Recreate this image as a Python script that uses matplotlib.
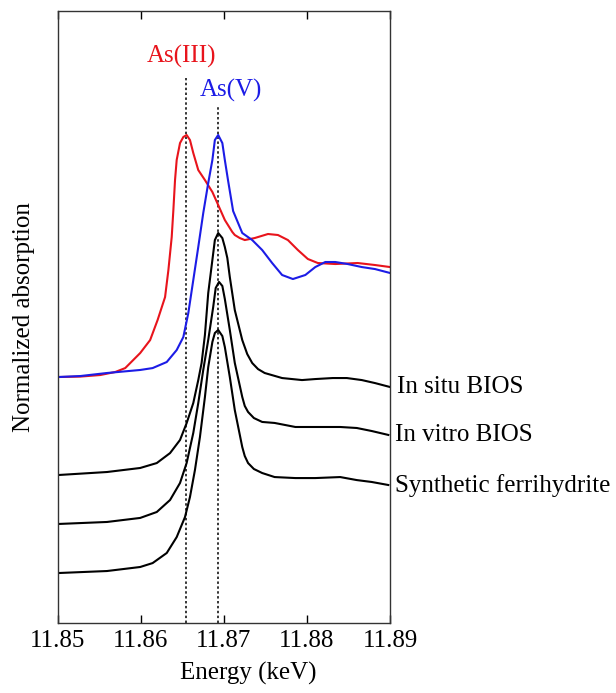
import matplotlib
matplotlib.use("Agg")
import matplotlib.pyplot as plt

plt.rcParams['font.family'] = ['Liberation Serif', 'DejaVu Serif']

# ---------------- data ----------------
red_E = [11.8500, 11.8527, 11.8551, 11.8569, 11.8581, 11.8599, 11.8611, 11.8620, 11.8629,
         11.8633, 11.8637, 11.8639, 11.8641, 11.8643, 11.8647, 11.8651, 11.8655, 11.8659,
         11.8663, 11.8669, 11.8677, 11.8686, 11.8693, 11.8701, 11.8710, 11.8713, 11.8719,
         11.8725, 11.8737, 11.8753, 11.8765, 11.8777, 11.8789, 11.8801, 11.8813, 11.8834,
         11.8861, 11.8882, 11.8900]
red_A = [0.000, 0.004, 0.018, 0.045, 0.080, 0.214, 0.330, 0.509, 0.714,
         0.955, 1.250, 1.491, 1.759, 1.938, 2.089, 2.143, 2.161, 2.116,
         2.000, 1.848, 1.759, 1.652, 1.536, 1.402, 1.295, 1.268, 1.241,
         1.223, 1.241, 1.277, 1.268, 1.223, 1.134, 1.054, 1.018, 1.009,
         1.018, 1.000, 0.982]

blue_E = [11.8500, 11.8527, 11.8559, 11.8599, 11.8614, 11.8631, 11.8643, 11.8651, 11.8657,
          11.8663, 11.8669, 11.8675, 11.8681, 11.8686, 11.8689, 11.8693, 11.8698, 11.8701,
          11.8705, 11.8711, 11.8722, 11.8734, 11.8746, 11.8758, 11.8770, 11.8783, 11.8798,
          11.8810, 11.8822, 11.8834, 11.8849, 11.8866, 11.8882, 11.8900]
blue_A = [0.000, 0.009, 0.036, 0.063, 0.080, 0.134, 0.241, 0.357, 0.571,
          0.866, 1.161, 1.464, 1.732, 1.938, 2.116, 2.161, 2.089, 1.938,
          1.750, 1.482, 1.286, 1.223, 1.134, 1.018, 0.911, 0.875, 0.911,
          0.982, 1.027, 1.027, 1.009, 0.982, 0.964, 0.929]

situ_E = [11.8500, 11.8559, 11.8599, 11.8619, 11.8635, 11.8647, 11.8655, 11.8663, 11.8669,
          11.8673, 11.8677, 11.8681, 11.8686, 11.8689, 11.8693, 11.8698, 11.8701, 11.8704,
          11.8707, 11.8713, 11.8722, 11.8728, 11.8734, 11.8741, 11.8749, 11.8770, 11.8794,
          11.8810, 11.8831, 11.8848, 11.8866, 11.8882, 11.8900]
situ_A = [0.000, 0.027, 0.063, 0.107, 0.196, 0.313, 0.464, 0.643, 0.848,
          1.000, 1.250, 1.625, 1.920, 2.098, 2.161, 2.116, 2.036, 1.938,
          1.768, 1.473, 1.205, 1.080, 1.000, 0.946, 0.911, 0.866, 0.848,
          0.857, 0.866, 0.866, 0.848, 0.821, 0.786]

vitro_E = [11.8500, 11.8559, 11.8599, 11.8619, 11.8635, 11.8647, 11.8655, 11.8663, 11.8669,
           11.8675, 11.8681, 11.8687, 11.8690, 11.8694, 11.8698, 11.8701, 11.8707, 11.8713,
           11.8722, 11.8725, 11.8729, 11.8736, 11.8746, 11.8761, 11.8786, 11.8810, 11.8840,
           11.8860, 11.8878, 11.8898]
vitro_A = [0.000, 0.018, 0.054, 0.107, 0.214, 0.366, 0.545, 0.813, 1.080,
           1.375, 1.643, 1.938, 2.107, 2.161, 2.125, 2.009, 1.732, 1.438,
           1.134, 1.054, 1.000, 0.946, 0.911, 0.902, 0.866, 0.866, 0.866,
           0.857, 0.830, 0.795]

synth_E = [11.8500, 11.8559, 11.8599, 11.8614, 11.8631, 11.8643, 11.8653, 11.8659, 11.8665,
           11.8671, 11.8677, 11.8681, 11.8686, 11.8689, 11.8693, 11.8698, 11.8701, 11.8707,
           11.8713, 11.8722, 11.8725, 11.8729, 11.8736, 11.8746, 11.8761, 11.8786, 11.8810,
           11.8840, 11.8860, 11.8878, 11.8898]
synth_A = [0.000, 0.018, 0.054, 0.089, 0.179, 0.321, 0.500, 0.679, 0.920,
           1.214, 1.571, 1.839, 2.063, 2.143, 2.170, 2.116, 2.018, 1.750,
           1.455, 1.125, 1.045, 0.982, 0.929, 0.893, 0.857, 0.848, 0.848,
           0.857, 0.830, 0.813, 0.786]

# vertical stacking offsets
offset_ref = 2.196
offset_situ = 1.321
offset_vitro = 0.884
offset_synth = 0.446

sample_labels = ["In situ BIOS", "In vitro BIOS", "Synthetic ferrihydrite"]
ref_labels = ["As(III)", "As(V)"]
as3_edge = 11.8654
as5_edge = 11.8693
as3_line_top = 4.866
as5_line_top = 4.616
as3_label_pos = (11.8649, 5.054)
as5_label_pos = (11.8708, 4.759)

xticks = [11.85, 11.86, 11.87, 11.88, 11.89]
xlim = (11.85, 11.89)
ylim = (0.0, 5.464)

RED = '#e8141c'
BLUE = '#1c1ce6'
FS = 18

# ---------------- figure ----------------
fig = plt.figure(figsize=(6.16, 6.93), dpi=100)
ax = fig.add_axes([58/616, 70/693, 332/616, 612/693])

ax.plot([as3_edge, as3_edge], [ylim[0], as3_line_top], color='black', lw=1.1,
        ls=(0, (1.6, 1.6)))
ax.plot([as5_edge, as5_edge], [ylim[0], as5_line_top], color='black', lw=1.1,
        ls=(0, (1.6, 1.6)))

ax.plot(red_E, [a + offset_ref for a in red_A], color=RED, lw=1.5)
ax.plot(blue_E, [a + offset_ref for a in blue_A], color=BLUE, lw=1.5)

samples = [(situ_E, situ_A, offset_situ), (vitro_E, vitro_A, offset_vitro),
           (synth_E, synth_A, offset_synth)]
for (E, A, off), lab in zip(samples, sample_labels):
    ax.plot(E, [a + off for a in A], color='black', lw=1.5)
    ax.annotate(lab, xy=(E[-1], A[-1] + off), xytext=(5, 0),
                textcoords='offset points', ha='left', va='center',
                fontsize=FS, annotation_clip=False)

ax.text(as3_label_pos[0], as3_label_pos[1], ref_labels[0], color=RED,
        ha='center', va='center', fontsize=FS)
ax.text(as5_label_pos[0], as5_label_pos[1], ref_labels[1], color=BLUE,
        ha='center', va='center', fontsize=FS)

ax.set_xlim(*xlim)
ax.set_ylim(*ylim)
ax.set_xticks(xticks)
ax.set_xticklabels([f"{t:.2f}" for t in xticks])
ax.set_yticks([])
ax.tick_params(axis='x', direction='in', length=6, width=1, top=True,
               labelsize=FS, pad=5)
for sp in ax.spines.values():
    sp.set_linewidth(1.0)
    sp.set_color('#333333')

ax.set_xlabel("Energy (keV)", fontsize=FS)
ax.xaxis.set_label_coords(0.572, -0.063)
ax.set_ylabel("Normalized absorption", fontsize=FS)
ax.yaxis.set_label_coords(-0.07, 0.5)

fig.savefig("out.png", dpi=100)
